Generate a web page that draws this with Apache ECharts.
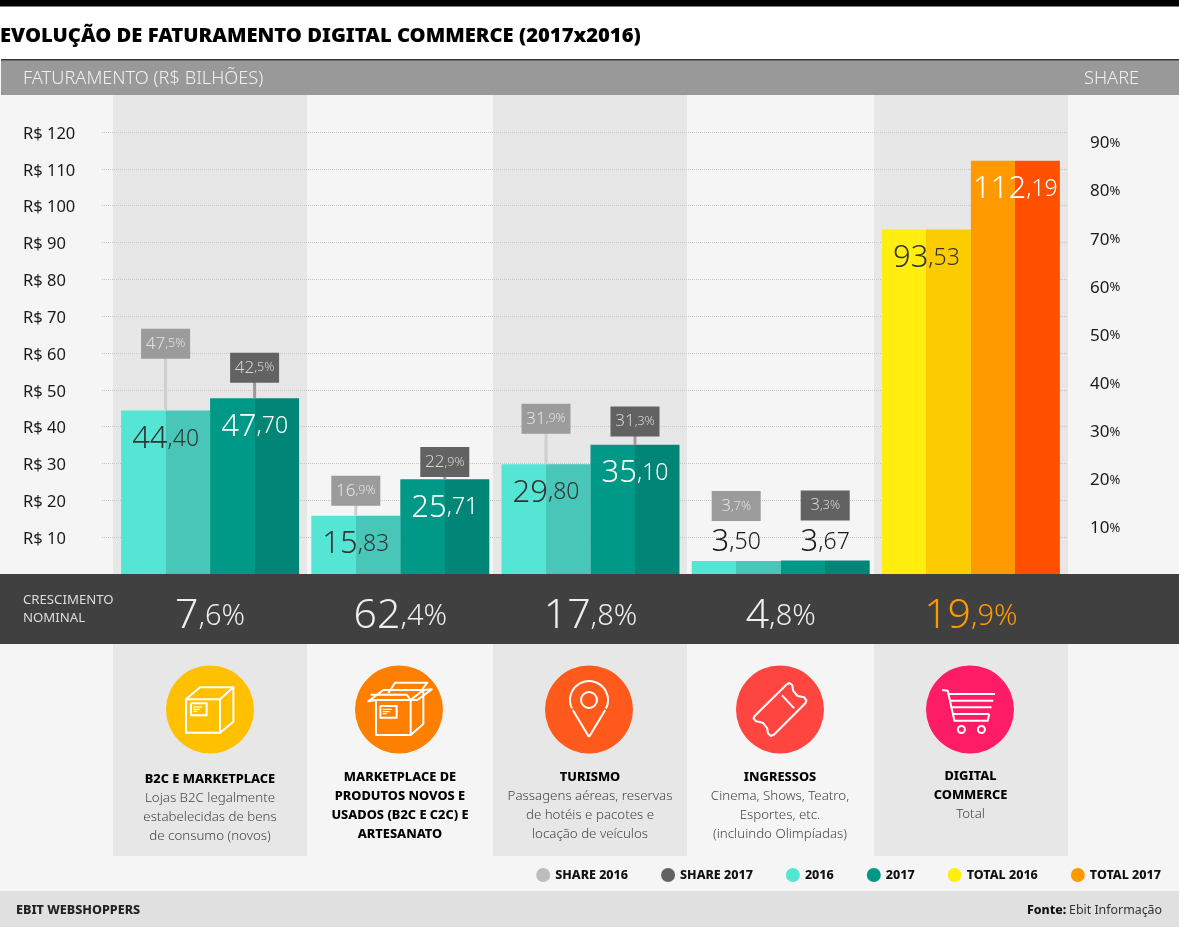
<!DOCTYPE html>
<html>
<head>
<meta charset="utf-8">
<title>Evolução de faturamento digital commerce</title>
<script src="https://cdn.jsdelivr.net/npm/echarts@6/dist/echarts.min.js"></script>
<style>
  html, body { margin: 0; padding: 0; background: #f5f5f5; }
  #main { width: 1179px; height: 927px; }
</style>
</head>
<body>
<div id="main"></div>
<script>
const categoryNames = [['B2C E MARKETPLACE'], ['MARKETPLACE DE', 'PRODUTOS NOVOS E', 'USADOS (B2C E C2C) E', 'ARTESANATO'], ['TURISMO'], ['INGRESSOS'], ['DIGITAL', 'COMMERCE']];
const categoryNotes = [
  ['Lojas B2C legalmente', 'estabelecidas de bens', 'de consumo (novos)'],
  [],
  ['Passagens aéreas, reservas', 'de hotéis e pacotes e', 'locação de veículos'],
  ['Cinema, Shows, Teatro,', 'Esportes, etc.', '(incluindo Olimpíadas)'],
  ['Total']
];
const values2016 = [44.40, 15.83, 29.80, 3.50, null];
const values2017 = [47.70, 25.71, 35.10, 3.67, null];
const total2016 = [null, null, null, null, 93.53];
const total2017 = [null, null, null, null, 112.19];
const share2016 = [47.5, 16.9, 31.9, 3.7];
const share2017 = [42.5, 22.9, 31.3, 3.3];
const growth = [7.6, 62.4, 17.8, 4.8, 19.9];
const legendNames = ['SHARE 2016', 'SHARE 2017', '2016', '2017', 'TOTAL 2016', 'TOTAL 2017'];
const legendColors = ['#bcbcbc', '#626262', '#55e5d5', '#009887', '#ffee10', '#ff9900'];

const moneyMax = 120;
const shareMax = 92;
const barWidth = 89;
const FONT = '"Noto Sans", sans-serif';
const INK = '#1a1a1a';

// two tone bar, right half is darker
function halves(left, right) {
  return {
    type: 'linear', x: 0, y: 0, x2: 1, y2: 0,
    colorStops: [
      { offset: 0, color: left }, { offset: 0.5, color: left },
      { offset: 0.5, color: right }, { offset: 1, color: right }
    ]
  };
}

// "44,40" with the decimals smaller, as the rich text of a label
function splitNumber(v, digits, big, small, tail) {
  const parts = v.toFixed(digits).split('.');
  return '{' + big + '|' + parts[0] + '}{' + small + '|,' + parts[1] + (tail || '') + '}';
}

function barSeries(name, stack, values, left, right, color, smallBarIndex) {
  return {
    name: name,
    type: 'bar',
    stack: stack,
    xAxisIndex: 1,
    yAxisIndex: 2,
    barWidth: barWidth,
    barGap: 0,
    z: 3,
    itemStyle: { color: halves(left, right) },
    label: {
      show: true,
      position: 'insideTop',
      distance: 13,
      color: color,
      fontFamily: FONT,
      formatter: p => (p.value == null ? '' : splitNumber(p.value, 2, 'big', 'small')),
      rich: {
        big: { fontSize: 31, fontWeight: 300, color: color, fontFamily: FONT },
        small: { fontSize: 23, fontWeight: 300, color: color, fontFamily: FONT }
      }
    },
    data: values.map((v, i) => {
      if (i !== smallBarIndex) return v;
      const rich = {
        big: { fontSize: 31, fontWeight: 300, color: INK, fontFamily: FONT },
        small: { fontSize: 23, fontWeight: 300, color: INK, fontFamily: FONT }
      };
      return { value: v, label: { position: 'top', distance: 3, rich: rich } };
    })
  };
}

function shareSeries(name, shares, values, side, boxColor, lineColor, textColor) {
  return {
    name: name,
    type: 'custom',
    xAxisIndex: 1,
    yAxisIndex: 3,
    z: 4,
    encode: { x: 0, y: 1 },
    data: shares.map((s, i) => [i, s, values[i]]),
    itemStyle: { color: boxColor },
    renderItem: function (params, api) {
      const share = api.value(1);
      const pos = api.coord([api.value(0), share]);
      const cs = params.coordSys;
      const x = pos[0] + side * barWidth / 2;
      const barTop = cs.y + cs.height * (1 - api.value(2) / moneyMax);
      const small = share < 10;
      // very small shares would sit on the bar, so they are lifted over the bar value
      const y = small ? barTop - 55 : pos[1] - 2;
      const children = [];
      if (!small) {
        children.push({
          type: 'line',
          shape: { x1: x, y1: y, x2: x, y2: barTop },
          style: { stroke: lineColor, lineWidth: 3 }
        });
      }
      children.push({
        type: 'rect',
        shape: { x: x - 24.5, y: y - 15, width: 49, height: 30 },
        style: { fill: boxColor }
      });
      children.push({
        type: 'text',
        style: {
          x: x, y: y,
          align: 'center', verticalAlign: 'middle',
          text: splitNumber(share, 1, 'a', 'b', '%'),
          rich: {
            a: { fontSize: 17, fontWeight: 300, fill: textColor, fontFamily: FONT },
            b: { fontSize: 12.5, fontWeight: 300, fill: textColor, fontFamily: FONT }
          }
        }
      });
      return { type: 'group', children: children };
    }
  };
}

// ---- page furniture ----
function rect(x, y, w, h, fill) {
  return { type: 'rect', z: -10, shape: { x: x, y: y, width: w, height: h }, style: { fill: fill } };
}
function text(x, y, str, size, weight, fill, align) {
  return {
    type: 'text', z: 10, x: x, y: y,
    style: {
      text: str, fill: fill, fontFamily: FONT, fontSize: size, fontWeight: weight,
      align: align || 'left', verticalAlign: 'middle', textAlign: align || 'left', textVerticalAlign: 'middle'
    }
  };
}
function poly(points, sx, sy, ox, oy, width) {
  return {
    type: 'polyline', z: 9,
    shape: { points: points.map(p => [ox + p[0] / sx, oy + p[1] / sy]) },
    style: { stroke: '#fff', fill: null, lineWidth: width || 2, lineJoin: 'round' }
  };
}
function disc(cx, cy, r, fill) {
  return { type: 'circle', z: 8, shape: { cx: cx, cy: cy, r: r }, style: { fill: fill } };
}

const icons = [];
[[210, '#ffc000'], [399, '#ff8000'], [589, '#ff5a1c'], [780, '#ff4540'], [970, '#ff1c66']].forEach(d => {
  icons.push(disc(d[0], 709.5, 44, d[1]));
});
// closed box
[
  [[258, 148], [360, 148], [360, 248], [258, 248], [258, 148], [300, 112], [400, 112], [360, 148]],
  [[400, 112], [400, 215], [360, 248]],
  [[273, 160], [320, 160], [320, 196], [273, 196], [273, 160]],
].forEach(p => icons.push(poly(p, 3, 3, 100, 650)));
[[[280, 171], [306, 171]], [[280, 178], [300, 178]], [[280, 184], [292, 184]]].forEach(p => icons.push(poly(p, 3, 3, 100, 650, 1.2)));
// open box
[
  [[828, 150], [932, 150], [932, 255], [828, 255], [828, 150]],
  [[932, 150], [970, 120], [970, 222], [932, 255]],
  [[828, 150], [805, 154], [850, 120], [970, 120]],
  [[865, 130], [885, 98], [982, 98], [965, 120]],
  [[932, 150], [952, 150], [995, 118], [970, 120]],
  [[812, 134], [920, 134], [932, 150]],
  [[841, 168], [890, 168], [890, 203], [841, 203], [841, 168]],
].forEach(p => icons.push(poly(p, 3, 3, 100, 650)));
[[[848, 178], [876, 178]], [[848, 185], [870, 185]], [[848, 191], [860, 191]]].forEach(p => icons.push(poly(p, 3, 3, 100, 650, 1.2)));
// pin
icons.push({ type: 'arc', z: 9, shape: { cx: 589, cy: 700, r: 19, startAngle: Math.PI * 0.85, endAngle: Math.PI * 0.15 }, style: { stroke: '#fff', fill: null, lineWidth: 2 } });
icons.push({ type: 'line', z: 9, shape: { x1: 572.8, y1: 710, x2: 589, y2: 737 }, style: { stroke: '#fff', lineWidth: 2 } });
icons.push({ type: 'line', z: 9, shape: { x1: 605.2, y1: 710, x2: 589, y2: 737 }, style: { stroke: '#fff', lineWidth: 2 } });
icons.push({ type: 'circle', z: 9, shape: { cx: 589, cy: 700, r: 8 }, style: { stroke: '#fff', fill: null, lineWidth: 2 } });
// ticket
[
  [[505, 103], [512, 99], [520, 106], [522, 122], [534, 138], [552, 142], [558, 152], [555, 160], [470, 254], [462, 258], [454, 250], [452, 235], [440, 218], [422, 214], [415, 205], [418, 198], [505, 103]],
  [[492, 136], [525, 175]],
].forEach(p => icons.push(poly(p, 2.703, 3, 600, 650)));
// cart
[
  [[925, 120], [940, 122], [958, 212], [1048, 212], [1052, 192]],
  [[940, 132], [1068, 132]],
  [[944, 152], [1063, 152]],
  [[948, 172], [1058, 172]],
  [[952, 192], [1052, 192]],
].forEach(p => icons.push(poly(p, 2.703, 3, 600, 650)));
[977, 1031].forEach(x => icons.push({ type: 'circle', z: 9, shape: { cx: 600 + x / 2.703, cy: 729.5, r: 3.5 }, style: { stroke: '#fff', fill: null, lineWidth: 2 } }));

// captions under the icons
const captionX = [210, 400, 590, 780, 970.5];
const captionY = [779, 777, 777, 777, 776];
const captions = [];
categoryNames.forEach((names, i) => {
  let y = captionY[i];
  names.forEach(line => { captions.push(text(captionX[i], y, line, 12.8, 800, '#000', 'center')); y += 19; });
  categoryNotes[i].forEach(line => { captions.push(text(captionX[i], y, line, 13.3, 300, '#444', 'center')); y += 19; });
});

const furniture = [
  rect(0, 0, 1179, 927, '#f5f5f5'),
  rect(0, 0, 1179, 60, '#fff'),
  rect(0, 0, 1179, 6.5, '#000'),
  rect(1, 59, 1178, 36, '#999'),
  rect(1, 59, 1178, 1.5, '#3a3a3a'),
  rect(113, 95, 194, 761, '#e7e7e7'),
  rect(493, 95, 194, 761, '#e7e7e7'),
  rect(874, 95, 194, 761, '#e7e7e7'),
  rect(0, 574, 1179, 70, '#404040'),
  rect(0, 891, 1179, 36, '#e0e0e0'),
  text(0, 36, 'EVOLUÇÃO DE FATURAMENTO DIGITAL COMMERCE (2017x2016)', 20.2, 900, '#000'),
  text(23, 79, 'FATURAMENTO (R$ BILHÕES)', 18.2, 300, '#f0f0f0'),
  text(1084, 79, 'SHARE', 18.2, 300, '#f0f0f0'),
  text(23, 600, 'CRESCIMENTO', 13.2, 400, '#ddd'),
  text(23, 618, 'NOMINAL', 13.2, 400, '#ddd'),
  text(16, 910, 'EBIT WEBSHOPPERS', 12.6, 800, '#222'),
  text(1069, 910, 'Ebit Informação', 12.4, 400, '#333'),
  text(1027, 910, 'Fonte:', 12.4, 800, '#111')
].concat(icons, captions);

const chart = echarts.init(document.getElementById('main'));
chart.setOption({
  animation: false,
  backgroundColor: '#f5f5f5',
  textStyle: { fontFamily: FONT },
  graphic: { elements: furniture },
  legend: {
    right: 13,
    top: 863,
    icon: 'circle',
    itemWidth: 14,
    itemHeight: 14,
    itemGap: 33,
    selectedMode: false,
    textStyle: { fontFamily: FONT, fontWeight: 800, fontSize: 12.5, color: '#111' },
    data: legendNames.map((n, i) => ({ name: n, itemStyle: { color: legendColors[i] } }))
  },
  grid: [
    { left: 102, width: 966, top: 132, bottom: 353 },
    { left: 115, width: 951, top: 132, bottom: 353 }
  ],
  xAxis: [
    { gridIndex: 0, type: 'value', min: 0, max: 1, show: false },
    {
      gridIndex: 1,
      type: 'category',
      data: categoryNames.map(n => n.join(' ')),
      axisLine: { show: false },
      axisTick: { show: false },
      axisLabel: {
        interval: 0,
        margin: 22,
        formatter: function (v, i) {
          return i === 4 ? splitNumber(growth[i], 1, 'obig', 'osmall', '%') : splitNumber(growth[i], 1, 'big', 'small', '%');
        },
        rich: {
          big: { fontSize: 41, fontWeight: 300, color: '#eee', fontFamily: FONT },
          small: { fontSize: 29, fontWeight: 300, color: '#eee', fontFamily: FONT },
          obig: { fontSize: 41, fontWeight: 300, color: '#ff9900', fontFamily: FONT },
          osmall: { fontSize: 29, fontWeight: 300, color: '#ff9900', fontFamily: FONT }
        }
      }
    }
  ],
  yAxis: [
    {
      gridIndex: 0, type: 'value', min: 0, max: moneyMax, interval: 10,
      axisLine: { show: false }, axisTick: { show: false },
      splitLine: { showMinLine: false, lineStyle: { type: 'dotted', color: '#c6c6c6', width: 1 } },
      axisLabel: {
        align: 'left', margin: 79, padding: [4, 0, 0, 0],
        formatter: v => (v === 0 ? '' : '{a|R$ ' + v + '}'),
        rich: {
          a: { fontSize: 16.5, color: INK, fontFamily: FONT }
        }
      }
    },
    {
      gridIndex: 0, type: 'value', position: 'right', min: 0, max: shareMax, interval: 10,
      axisLine: { show: false }, axisTick: { show: false }, splitLine: { show: false },
      axisLabel: {
        margin: 22, padding: [4, 0, 0, 0],
        formatter: v => (v === 0 || v % 10 !== 0 ? '' : '{a|' + v + '}{b|%}'),
        rich: {
          a: { fontSize: 17, color: INK, fontFamily: FONT },
          b: { fontSize: 13, color: INK, fontFamily: FONT }
        }
      }
    },
    { gridIndex: 1, type: 'value', min: 0, max: moneyMax, show: false },
    { gridIndex: 1, type: 'value', min: 0, max: shareMax, show: false }
  ],
  series: [
    barSeries('2016', 'y2016', values2016, '#55e5d5', '#48c7b8', '#333', 3),
    barSeries('2017', 'y2017', values2017, '#009887', '#008577', '#fff', 3),
    barSeries('TOTAL 2016', 'y2016', total2016, '#ffee10', '#fccc00', '#333'),
    barSeries('TOTAL 2017', 'y2017', total2017, '#ff9900', '#ff5000', '#fff'),
    shareSeries('SHARE 2016', share2016, values2016, -1, '#9b9b9b', '#cfcfcf', '#e2e2e2'),
    shareSeries('SHARE 2017', share2017, values2017, 1, '#626262', '#9a9a9a', '#d5d5d5')
  ]
});
</script>
</body>
</html>
